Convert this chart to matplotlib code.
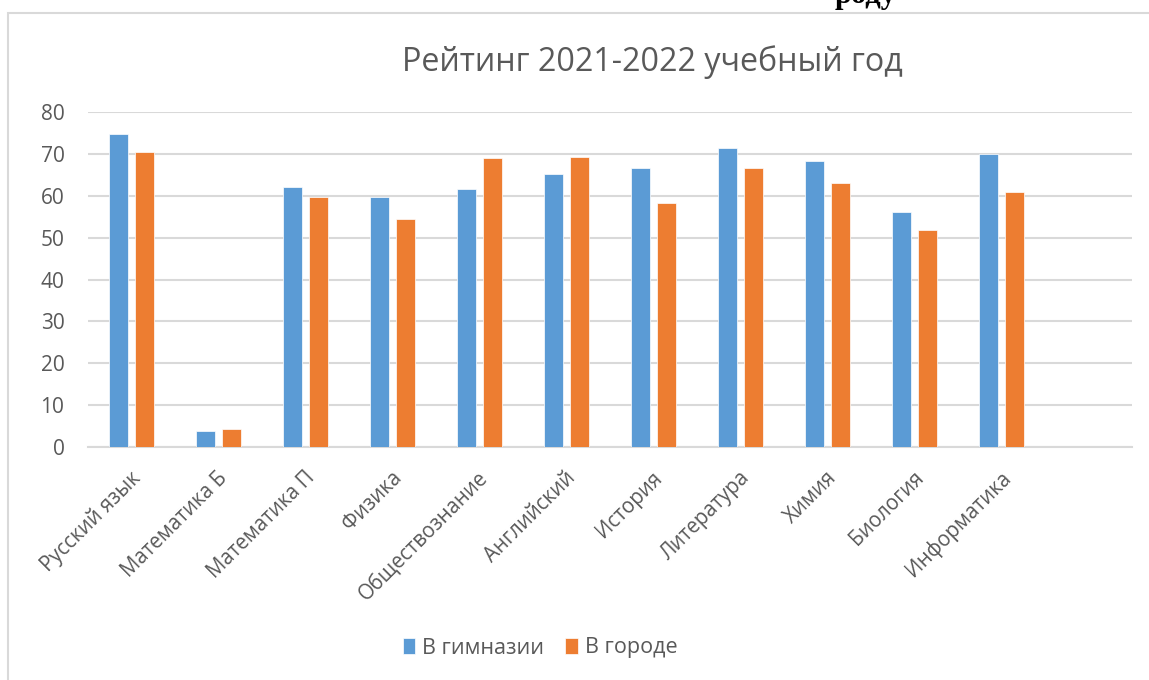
import numpy as np
import matplotlib.pyplot as plt
import matplotlib.transforms as mtransforms
from matplotlib.patches import Rectangle

plt.rcParams['font.family'] = ['Open Sans', 'DejaVu Sans']

subjects = ["Русский язык", "Математика Б", "Математика П", "Физика",
            "Обществознание", "Английский", "История", "Литература",
            "Химия", "Биология", "Информатика"]
gymnasium = [74.8, 3.9, 62.0, 59.7, 61.6, 65.2, 66.7, 71.4, 68.3, 56.1, 70.0]
city = [70.5, 4.2, 59.7, 54.4, 69.0, 69.2, 58.3, 66.7, 63.0, 51.8, 60.9]
n_slots = 12  # the chart keeps one empty category on the right

blue = '#5B9BD5'
orange = '#ED7D31'
grid_c = '#D9D9D9'
text_c = '#595959'

W, H = 1149, 680
fig = plt.figure(figsize=(W / 100, H / 100), dpi=100)

# chart frame (runs off the right and bottom edges)
fig.patches.append(Rectangle((8 / W, -0.1), 1.2, 1 - 13 / H + 0.1,
                             transform=fig.transFigure, fill=False,
                             edgecolor=grid_c, linewidth=1.5))

# heading of the page above, mostly cut off by the top edge
fig.text(866 / W, 1 - 3 / H, "роду", family='Liberation Serif',
         fontweight='bold', fontsize=22, ha='center', va='baseline',
         color='black')

ax = fig.add_axes([88 / W, 1 - 447 / H, (1132 - 88) / W, (447 - 112) / H])

x = np.arange(len(subjects))
w = 0.22
off = 0.145
ax.bar(x - off, gymnasium, w, color=blue, edgecolor='white', linewidth=0.5,
       label='В гимназии', zorder=3)
ax.bar(x + off, city, w, color=orange, edgecolor='white', linewidth=0.5,
       label='В городе', zorder=3)

ax.set_xlim(-0.5, n_slots - 0.5)
ax.set_ylim(0, 80)
ax.set_yticks(range(0, 81, 10))
ax.yaxis.grid(True, color=grid_c, linewidth=1.5, zorder=0)
ax.set_axisbelow(True)
for s in ['top', 'right', 'left']:
    ax.spines[s].set_visible(False)
ax.spines['bottom'].set_color(grid_c)
ax.spines['bottom'].set_linewidth(1.5)
ax.tick_params(axis='both', length=0, colors=text_c)
ax.tick_params(axis='y', labelsize=15, pad=17)

ax.set_xticks(x)
ax.set_xticklabels(subjects, rotation=45, ha='right', va='center',
                   rotation_mode='anchor', fontsize=14.8)
ax.tick_params(axis='x', pad=20)
shift = mtransforms.ScaledTranslation(6 / 100, 0, fig.dpi_scale_trans)
for lab in ax.get_xticklabels():
    lab.set_transform(lab.get_transform() + shift)

fig.text(652 / W, 1 - 62 / H, "Рейтинг 2021-2022 учебный год",
         fontsize=23.2, color=text_c, ha='center', va='center')

fig.legend(loc='center', bbox_to_anchor=(540 / W, 1 - 648 / H), ncol=2,
           frameon=False, fontsize=15.5, labelcolor=text_c, handlelength=0.6,
           handleheight=0.8, handletextpad=0.3, columnspacing=1.0)

fig.savefig('out.png', dpi=100)
